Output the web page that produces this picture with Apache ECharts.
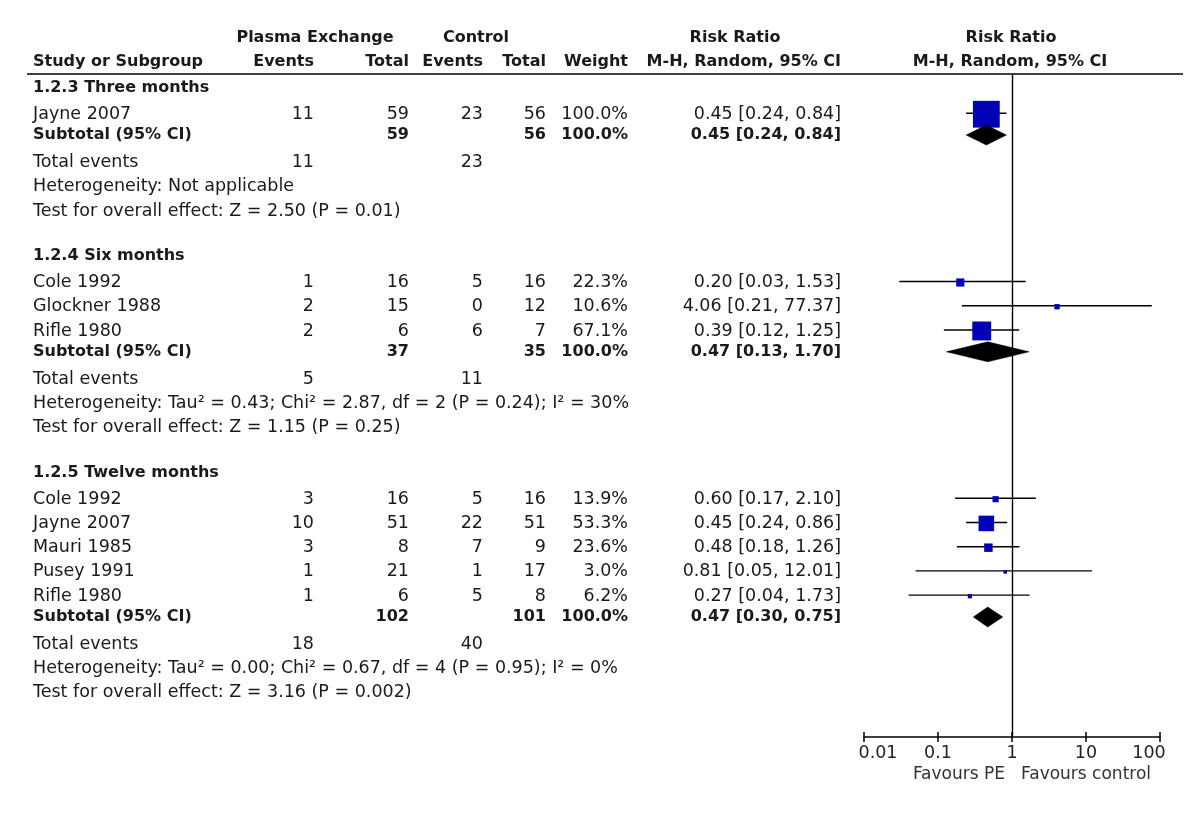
<!DOCTYPE html>
<html><head><meta charset="utf-8">
<script src="https://cdn.jsdelivr.net/npm/echarts@6/dist/echarts.min.js"></script>
<style>html,body{margin:0;padding:0;background:#fff}#c{width:1200px;height:813px}</style>
</head><body><div id="c"></div>
<script>
// ---------------- DATA ----------------
const groupTitles = ['1.2.3 Three months', '1.2.4 Six months', '1.2.5 Twelve months'];
const studyGroup  = [0, 1, 1, 1, 2, 2, 2, 2, 2];
const studyNames  = ['Jayne 2007', 'Cole 1992', 'Glockner 1988', 'Rifle 1980', 'Cole 1992', 'Jayne 2007', 'Mauri 1985', 'Pusey 1991', 'Rifle 1980'];
const peEvents    = [11, 1, 2, 2, 3, 10, 3, 1, 1];
const peTotal     = [59, 16, 15, 6, 16, 51, 8, 21, 6];
const ctlEvents   = [23, 5, 0, 6, 5, 22, 7, 1, 5];
const ctlTotal    = [56, 16, 12, 7, 16, 51, 9, 17, 8];
const weights     = [100.0, 22.3, 10.6, 67.1, 13.9, 53.3, 23.6, 3.0, 6.2];
const rr          = [0.45, 0.20, 4.06, 0.39, 0.60, 0.45, 0.48, 0.81, 0.27];
const rrLow       = [0.24, 0.03, 0.21, 0.12, 0.17, 0.24, 0.18, 0.05, 0.04];
const rrHigh      = [0.84, 1.53, 77.37, 1.25, 2.10, 0.86, 1.26, 12.01, 1.73];

const subPeTotal   = [59, 37, 102];
const subCtlTotal  = [56, 35, 101];
const subWeight    = [100.0, 100.0, 100.0];
const subRR        = [0.45, 0.47, 0.47];
const subLow       = [0.24, 0.13, 0.30];
const subHigh      = [0.84, 1.70, 0.75];
const subPeEvents  = [11, 5, 18];
const subCtlEvents = [23, 11, 40];
const heterogeneity = ['Not applicable',
  'Tau\u00b2 = 0.43; Chi\u00b2 = 2.87, df = 2 (P = 0.24); I\u00b2 = 30%',
  'Tau\u00b2 = 0.00; Chi\u00b2 = 0.67, df = 4 (P = 0.95); I\u00b2 = 0%'];
const overallEffect = ['Z = 2.50 (P = 0.01)', 'Z = 1.15 (P = 0.25)', 'Z = 3.16 (P = 0.002)'];

const tickValues = [0.01, 0.1, 1, 10, 100];
const tickLabels = ['0.01', '0.1', '1', '10', '100'];
const favoursLeft = 'Favours PE';
const favoursRight = 'Favours control';

const headerTop = ['Plasma Exchange', 'Control', 'Risk Ratio', 'Risk Ratio'];
const headerBottom = ['Study or Subgroup', 'Events', 'Total', 'Events', 'Total', 'Weight', 'M-H, Random, 95% CI', 'M-H, Random, 95% CI'];

// ---------------- LAYOUT ----------------
const FONT = '"DejaVu Sans", sans-serif';
const FS_B = 16;     // bold text size
const FS_R = 17.5;   // regular text size
const TXT = '#1a1a1a';
const cols = {name: 33, peEv: 314, peTot: 409, ctEv: 483, ctTot: 546, wt: 628, rr: 841};

const rows = [];
let pos = 0.56;
groupTitles.forEach((g, gi) => {
  if (gi > 0) pos += 1.85;
  rows.push({kind: 'group', pos, g: gi});
  let first = true;
  studyGroup.forEach((sg, si) => {
    if (sg !== gi) return;
    pos += first ? 1.1 : 1; first = false;
    rows.push({kind: 'study', pos, i: si});
  });
  pos += 0.86; rows.push({kind: 'subtotal', pos, g: gi});
  pos += 1.12; rows.push({kind: 'events', pos, g: gi});
  pos += 1.01; rows.push({kind: 'het', pos, g: gi});
  pos += 1;    rows.push({kind: 'test', pos, g: gi});
});

function fmtRR(a, l, h) { return a.toFixed(2) + ' [' + l.toFixed(2) + ', ' + h.toFixed(2) + ']'; }
function txt(x, y, s, align, bold, size, color) {
  const fs = size || (bold ? FS_B : FS_R);
  return {type: 'text', x: x, y: y, silent: true,
    style: {text: String(s), x: 0, y: 0, align: align, textAlign: align, verticalAlign: 'middle', textVerticalAlign: 'middle',
      font: (bold ? 'bold ' : '') + fs + 'px ' + FONT, fill: color || TXT}};
}

const tableData = rows.map((r, k) => [1, r.pos, k]);
const forestData = [];
rows.forEach(r => {
  if (r.kind === 'study') forestData.push([rr[r.i], r.pos, rrLow[r.i], rrHigh[r.i], weights[r.i], 0]);
  if (r.kind === 'subtotal') forestData.push([subRR[r.g], r.pos, subLow[r.g], subHigh[r.g], subWeight[r.g], 1]);
});

const chart = echarts.init(document.getElementById('c'), null, {renderer: 'canvas'});

const gridBox = {left: 864, right: 40, top: 74, bottom: 76, containLabel: false, outerBoundsMode: 'none'};
const labelFormatter = v => {
  const e = Math.round(Math.log10(v));
  const k = tickValues.findIndex(t => Math.round(Math.log10(t)) === e);
  if (k < 0) return '';
  if (k === 0) return '{first|' + tickLabels[k] + '}';
  if (k === tickLabels.length - 1) return '{last|' + tickLabels[k] + '}';
  return '{mid|' + tickLabels[k] + '}';
};
const richBase = {fontSize: FS_R, fontFamily: FONT, color: '#222'};

const option = {
  animation: false,
  backgroundColor: '#fff',
  grid: [Object.assign({}, gridBox), Object.assign({}, gridBox)],
  xAxis: [
    {type: 'log', gridIndex: 0, logBase: 10, min: 0.01, max: 100, position: 'bottom',
      axisLine: {show: true, onZero: false, lineStyle: {color: '#000', width: 1.5}},
      axisTick: {show: true, inside: true, length: 5, lineStyle: {color: '#000', width: 1.5}},
      minorTick: {show: false}, splitLine: {show: false},
      axisLabel: {show: true, margin: 7, fontSize: FS_R, fontFamily: FONT, color: '#222', hideOverlap: false,
        formatter: labelFormatter,
        rich: {
          first: Object.assign({padding: [0, 0, 0, 28]}, richBase),
          mid: Object.assign({}, richBase),
          last: Object.assign({padding: [0, 22, 0, 0]}, richBase)
        }}},
    {type: 'log', gridIndex: 1, logBase: 10, min: 0.01, max: 100, position: 'bottom',
      axisLine: {show: false, onZero: false},
      axisTick: {show: true, inside: false, length: 5, lineStyle: {color: '#000', width: 1.5}},
      minorTick: {show: false}, splitLine: {show: false}, axisLabel: {show: false}}
  ],
  yAxis: [
    {type: 'value', gridIndex: 0, inverse: true, min: 0, max: 27.35, show: false},
    {type: 'value', gridIndex: 1, inverse: true, min: 0, max: 27.35, show: false}
  ],
  series: [
    {
      type: 'custom', name: 'table', xAxisIndex: 0, yAxisIndex: 0, clip: false, silent: true,
      encode: {x: 0, y: 1},
      data: tableData,
      renderItem: function (params, api) {
        const r = rows[api.value(2)];
        const y = api.coord([1, api.value(1)])[1];
        const ch = [];
        if (r.kind === 'group') {
          ch.push(txt(cols.name, y, groupTitles[r.g], 'left', true));
        } else if (r.kind === 'study') {
          const i = r.i;
          ch.push(txt(cols.name, y, studyNames[i], 'left', false));
          ch.push(txt(cols.peEv, y, peEvents[i], 'right', false));
          ch.push(txt(cols.peTot, y, peTotal[i], 'right', false));
          ch.push(txt(cols.ctEv, y, ctlEvents[i], 'right', false));
          ch.push(txt(cols.ctTot, y, ctlTotal[i], 'right', false));
          ch.push(txt(cols.wt, y, weights[i].toFixed(1) + '%', 'right', false));
          ch.push(txt(cols.rr, y, fmtRR(rr[i], rrLow[i], rrHigh[i]), 'right', false));
        } else if (r.kind === 'subtotal') {
          const g = r.g;
          ch.push(txt(cols.name, y, 'Subtotal (95% CI)', 'left', true));
          ch.push(txt(cols.peTot, y, subPeTotal[g], 'right', true));
          ch.push(txt(cols.ctTot, y, subCtlTotal[g], 'right', true));
          ch.push(txt(cols.wt, y, subWeight[g].toFixed(1) + '%', 'right', true));
          ch.push(txt(cols.rr, y, fmtRR(subRR[g], subLow[g], subHigh[g]), 'right', true));
        } else if (r.kind === 'events') {
          ch.push(txt(cols.name, y, 'Total events', 'left', false));
          ch.push(txt(cols.peEv, y, subPeEvents[r.g], 'right', false));
          ch.push(txt(cols.ctEv, y, subCtlEvents[r.g], 'right', false));
        } else if (r.kind === 'het') {
          ch.push(txt(cols.name, y, 'Heterogeneity: ' + heterogeneity[r.g], 'left', false));
        } else if (r.kind === 'test') {
          ch.push(txt(cols.name, y, 'Test for overall effect: ' + overallEffect[r.g], 'left', false));
        }
        return {type: 'group', children: ch};
      }
    },
    {
      type: 'custom', name: 'forest', xAxisIndex: 0, yAxisIndex: 0, clip: false, silent: true,
      encode: {x: 0, y: 1},
      data: forestData,
      renderItem: function (params, api) {
        const p = api.coord([api.value(0), api.value(1)]);
        const l = api.coord([api.value(2), api.value(1)]);
        const h = api.coord([api.value(3), api.value(1)]);
        if (api.value(5) === 1) {
          const hh = 10;
          return {type: 'polygon', shape: {points: [[l[0], p[1]], [p[0], p[1] - hh], [h[0], p[1]], [p[0], p[1] + hh]]},
            style: {fill: '#000', stroke: '#000', lineWidth: 0.5}};
        }
        const s = 2.8 + 0.24 * api.value(4);
        return {type: 'group', children: [
          {type: 'line', shape: {x1: l[0], y1: p[1] - 1, x2: h[0], y2: p[1] - 1}, style: {stroke: '#000', lineWidth: 1.4}},
          {type: 'rect', shape: {x: p[0] - s / 2, y: p[1] - s / 2, width: s, height: s}, style: {fill: '#0000b4'}}
        ]};
      },
      markLine: {silent: true, symbol: 'none', animation: false, label: {show: false},
        lineStyle: {color: '#000', width: 1.4, type: 'solid'},
        data: [{xAxis: 1}]}
    }
  ],
  graphic: [
    {type: 'line', silent: true, shape: {x1: 27, y1: 74, x2: 1183, y2: 74}, style: {stroke: '#000', lineWidth: 1.5}},
    txt(315, 38, headerTop[0], 'center', true),
    txt(476, 38, headerTop[1], 'center', true),
    txt(735, 38, headerTop[2], 'center', true),
    txt(1011, 38, headerTop[3], 'center', true),
    txt(33, 62, headerBottom[0], 'left', true),
    txt(314, 62, headerBottom[1], 'right', true),
    txt(409, 62, headerBottom[2], 'right', true),
    txt(483, 62, headerBottom[3], 'right', true),
    txt(546, 62, headerBottom[4], 'right', true),
    txt(628, 62, headerBottom[5], 'right', true),
    txt(841, 62, headerBottom[6], 'right', true),
    txt(1010, 62, headerBottom[7], 'center', true),
    txt(1005, 775, favoursLeft, 'right', false, 17, '#333'),
    txt(1021, 775, favoursRight, 'left', false, 17, '#333')
  ]
};
chart.setOption(option);
</script></body></html>
